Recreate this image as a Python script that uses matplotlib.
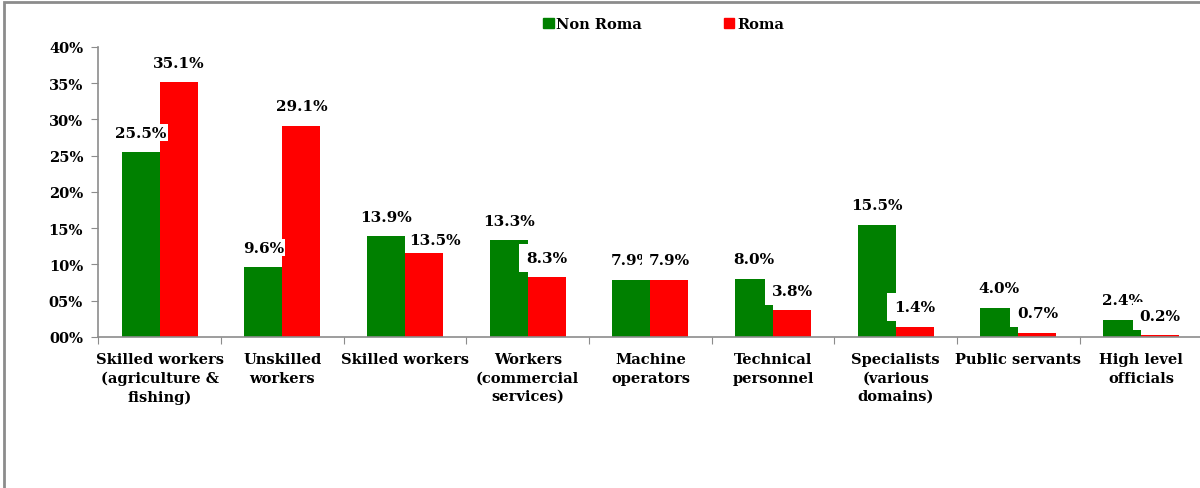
import matplotlib
matplotlib.use('Agg')
import matplotlib.pyplot as plt
from matplotlib.patches import Rectangle, Patch
import numpy as np

categories = ['Skilled workers\n(agriculture &\nfishing)', 'Unskilled\nworkers',
              'Skilled workers', 'Workers\n(commercial\nservices)', 'Machine\noperators',
              'Technical\npersonnel', 'Specialists\n(various\ndomains)', 'Public servants',
              'High level\nofficials']
non_roma = [25.5, 9.6, 13.9, 13.3, 7.9, 8.0, 15.5, 4.0, 2.4]
roma     = [35.1, 29.1, 11.6, 8.2, 7.9, 3.7, 1.4, 0.6, 0.2]
non_roma_labels = ['25.5%', '9.6%', '13.9%', '13.3%', '7.9%', '8.0%', '15.5%', '4.0%', '2.4%']
roma_labels     = ['35.1%', '29.1%', '13.5%', '8.3%', '7.9%', '3.8%', '1.4%', '0.7%', '0.2%']

GREEN = '#008000'
RED   = '#ff0000'
GRAY  = '#8c8c8c'
FONT  = 'DejaVu Serif'

fig = plt.figure(figsize=(12, 4.89), dpi=100)
ax = fig.add_axes([0.082, 0.309, 0.92, 0.593])

x = np.arange(len(categories))
w = 0.31
ax.bar(x - w / 2, non_roma, w, color=GREEN, zorder=2)
ax.bar(x + w / 2, roma, w, color=RED, zorder=2)

small_box = dict(boxstyle='square,pad=0.1', fc='white', ec='none')
big_box = dict(boxstyle='square,pad=0.45', fc='white', ec='none')
roma_nudge = {2: (8, 9)}  # this label was moved by hand in the original
for i in range(len(categories)):
    ax.annotate(non_roma_labels[i], (x[i] - w / 2, non_roma[i]), xytext=(0, 14),
                textcoords='offset points', ha='center', va='center',
                fontsize=11, fontweight='bold', family=FONT, bbox=small_box, zorder=3)
for i in range(len(categories)):
    ax.annotate(roma_labels[i], (x[i] + w / 2, roma[i]), xytext=roma_nudge.get(i, (0, 14)),
                textcoords='offset points', ha='center', va='center',
                fontsize=11, fontweight='bold', family=FONT,
                bbox=small_box if i in roma_nudge else big_box, zorder=4)

ax.set_xlim(-0.5, len(categories) - 0.5)
ax.set_ylim(0, 40)
ax.set_yticks(np.arange(0, 41, 5))
ax.set_yticklabels(['%02d%%' % v for v in range(0, 41, 5)])
ax.set_xticks(np.arange(-0.5, len(categories), 1))
ax.set_xticklabels([])
ax.set_xticks(x, minor=True)
ax.set_xticklabels(categories, minor=True, linespacing=1.4)
ax.tick_params(axis='x', which='minor', length=0, pad=11)
ax.tick_params(axis='x', which='major', length=5, color=GRAY, direction='out')
ax.tick_params(axis='y', length=5, color=GRAY, direction='out', pad=6)
for lab in ax.get_xticklabels(minor=True) + ax.get_yticklabels():
    lab.set_fontfamily(FONT)
    lab.set_fontweight('bold')
    lab.set_fontsize(10.5)
for s in ['top', 'right']:
    ax.spines[s].set_visible(False)
for s in ['left', 'bottom']:
    ax.spines[s].set_color(GRAY)
    ax.spines[s].set_linewidth(1.2)

handles = [Patch(color=GREEN, label='Non Roma'), Patch(color=RED, label='Roma')]
fig.legend(handles=handles, loc='center', bbox_to_anchor=(0.553, 0.949), ncol=2,
           frameon=False, handlelength=0.7, handleheight=0.7, handletextpad=0.2,
           columnspacing=5.6, prop={'family': FONT, 'weight': 'bold', 'size': 10.5})

fig.patches.append(Rectangle((0.003, -0.1), 1.1, 1.094, transform=fig.transFigure,
                             fill=False, ec=GRAY, lw=2))

fig.savefig('out.png', dpi=100, facecolor='white')
